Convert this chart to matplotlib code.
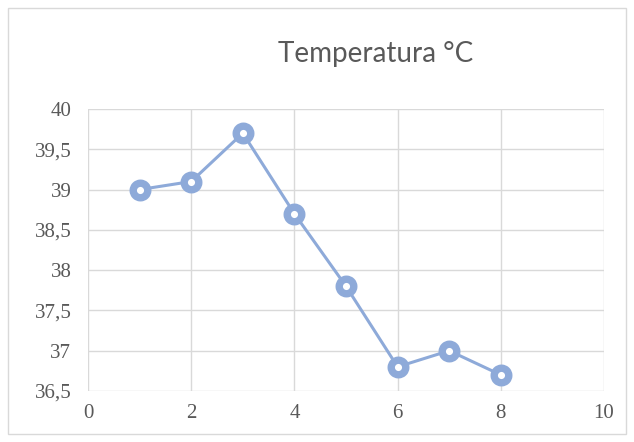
import matplotlib.pyplot as plt
from matplotlib.patches import Rectangle
from matplotlib.ticker import FuncFormatter

# data
day = [1, 2, 3, 4, 5, 6, 7, 8]
temp = [39.0, 39.1, 39.7, 38.7, 37.8, 36.8, 37.0, 36.7]

blue = "#8eaad9"
grid_c = "#d9d9d9"
text_c = "#595959"

fig = plt.figure(figsize=(6.34, 4.42), dpi=100)
ax = fig.add_axes([88 / 634, 1 - 391 / 442, (604 - 88) / 634, (391 - 109) / 442])

ax.plot(day, temp, color=blue, lw=2.2, marker="o", ms=10.5,
        mfc="white", mec=blue, mew=5.3, zorder=3)

ax.set_xlim(0, 10)
ax.set_ylim(36.5, 40)
ax.set_xticks(range(0, 11, 2))
ax.set_yticks([36.5 + 0.5 * i for i in range(8)])
ax.yaxis.set_major_formatter(FuncFormatter(lambda v, p: f"{v:g}".replace(".", ",")))

ax.grid(True, color=grid_c, lw=1)
for s in ax.spines.values():
    s.set_visible(False)
ax.tick_params(length=0, labelsize=15, labelcolor=text_c)
ax.tick_params(axis="y", pad=12)
ax.tick_params(axis="x", pad=9)
for lbl in ax.get_xticklabels() + ax.get_yticklabels():
    lbl.set_family("Liberation Serif")

fig.text(376 / 634, 1 - 54 / 442, "Temperatura °C", ha="center", va="center",
         fontsize=20, color=text_c, family="Lato")

fig.patches.append(Rectangle((8 / 634, 8 / 442), 618 / 634, 426 / 442,
                             transform=fig.transFigure, fill=False,
                             edgecolor=grid_c, lw=1))

fig.savefig("out.png", dpi=100)
